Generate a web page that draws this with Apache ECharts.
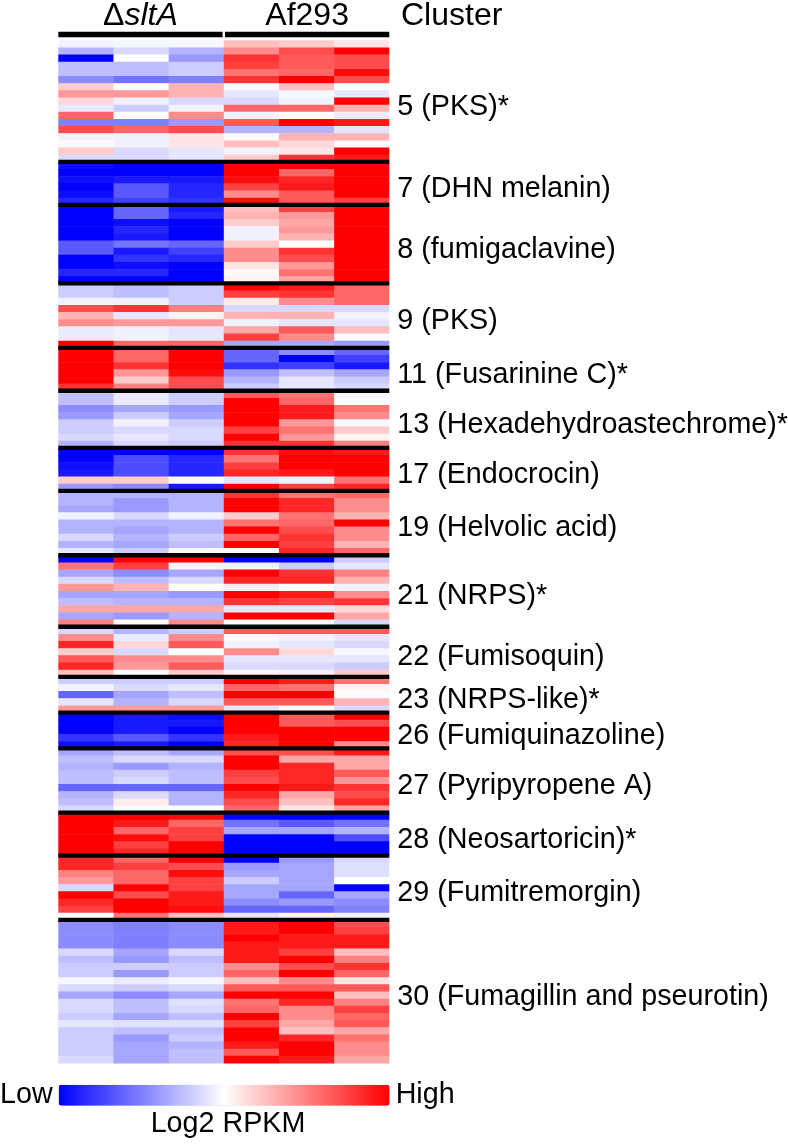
<!DOCTYPE html>
<html><head><meta charset="utf-8">
<script src="https://cdn.jsdelivr.net/npm/echarts@6/dist/echarts.min.js"></script>
<style>html,body{margin:0;padding:0;background:#fff;}#c{width:788px;height:1144px;}</style>
</head><body><div id="c"></div>
<script>
// ---------- DATA ----------
const groups = ['ΔsltA', 'Af293'];          // each group = 3 replicate columns
const clusterLabels = ['5 (PKS)*','7 (DHN melanin)','8 (fumigaclavine)','9 (PKS)','11 (Fusarinine C)*',
  '13 (Hexadehydroastechrome)*','17 (Endocrocin)','19 (Helvolic acid)','21 (NRPS)*','22 (Fumisoquin)',
  '23 (NRPS-like)*','26 (Fumiquinazoline)','27 (Pyripyropene A)','28 (Neosartoricin)*','29 (Fumitremorgin)',
  '30 (Fumagillin and pseurotin)'];
// relative log2 RPKM, -1 = low (blue), +1 = high (red); columns: dS1 dS2 dS3 Af1 Af2 Af3
const c5 = [
 [-0.05,-0.03,-0.03,0.25,0.2,0.1],[-0.3,-0.15,-0.3,0.45,0.7,1],[-1,0,-0.4,0.8,0.65,0.7],
 [-0.25,-0.25,-0.2,0.75,0.65,0.7],[-0.25,-0.25,-0.2,0.55,0.6,0.95],[-0.45,-0.55,-0.5,0.8,1,0.7],
 [0.2,0,0.3,-0.02,0.25,0],[0.4,0.4,0.3,-0.1,-0.03,-0.1],[0.15,-0.05,-0.15,-0.15,-0.05,1],
 [-0.08,-0.2,-0.05,0.6,0.6,0.3],[0.6,0,0.45,-0.05,0,-0.08],[-0.5,-0.5,-0.4,0.65,1,0.9],
 [0.7,0.6,0.7,-0.3,-0.3,-0.1],[-0.05,-0.05,0.1,-0.02,0.3,0.3],[0.02,-0.05,0.1,0.25,0.15,-0.02],
 [0.2,-0.15,-0.1,-0.05,0.1,1],[-0.15,-0.15,-0.1,0.2,0.8,0.9]];
const c7 = [
 [-0.95,-1,-1,1,1,1],[-1,-1,-1,1,0.6,1],[-0.95,-0.9,-0.9,0.95,0.85,1],
 [-1,-0.65,-0.85,0.75,0.9,1],[-0.95,-0.65,-0.85,0.45,0.65,1],[-0.85,-0.75,-0.8,0.95,0.65,0.75]];
const c8 = [
 [-1,-0.6,-0.9,0.25,0.75,1],[-1,-0.6,-0.85,0.3,0.4,1],[-1,-0.95,-1,0.2,0.35,1],
 [-1,-0.85,-1,-0.05,0.4,1],[-1,-0.9,-1,-0.05,0.3,1],[-0.65,-0.55,-0.6,0.2,0,1],
 [-0.65,-0.9,-0.75,0.45,0.8,1],[-1,-0.8,-0.85,0.45,0.7,1],[-1,-0.95,-1,0.1,0.4,1],
 [-0.85,-0.85,-1,0.02,0.55,1],[-1,-1,-1,0.05,0.35,1]];
const c9 = [
 [-0.2,-0.25,-0.2,1,0.9,0.6],[-0.2,-0.25,-0.2,0.75,0.8,0.6],[-0.05,-0.05,-0.2,0.08,0.45,0.6],
 [0.7,0.8,0.5,-0.15,-0.15,-0.15],[0.3,-0.1,0.05,0.3,0.3,-0.05],[0.45,0.4,0.4,-0.05,-0.1,-0.1],
 [-0.08,-0.05,-0.1,0.35,0.65,0.25],[-0.08,-0.05,-0.1,0.75,0.45,-0.02],[1,0.6,0.6,-0.35,-0.35,-0.4]];
const c11 = [
 [1,0.6,1,-0.6,-0.45,-0.6],[1,0.6,1,-0.6,-1,-0.75],[1,0.8,1,-0.8,-0.75,-0.9],
 [1,0.4,0.95,-0.4,-0.25,-0.35],[1,0.2,0.7,-0.3,-0.1,-0.2],[0.8,0.5,0.7,-0.2,-0.1,-0.15]];
const c13 = [
 [-0.25,-0.08,-0.2,0.65,0.55,-0.03],[-0.25,-0.08,-0.2,1,0.6,0],[-0.45,-0.35,-0.4,1,0.9,0.55],
 [-0.4,-0.2,-0.35,1,0.9,0.45],[-0.2,-0.05,-0.2,1,0.4,-0.03],[-0.2,-0.15,-0.15,0.75,0.55,0.2],
 [-0.15,-0.1,-0.15,1,0.4,0.05],[-0.3,-0.15,-0.2,0.8,0.8,0.5]];
const c17 = [
 [-1,-1,-1,0.8,0.95,0.9],[-1,-0.7,-0.85,0.55,1,1],[-0.95,-0.7,-0.85,0.75,1,1],
 [-0.9,-0.7,-0.85,0.85,0.9,1],[0.2,0.2,0,-0.1,-0.05,0.55],[-0.4,-0.45,-0.9,1,0.75,0.85]];
const c19 = [
 [-0.3,-0.3,-0.3,0.8,0.55,0.6],[-0.3,-0.4,-0.3,1,0.85,0.45],[-0.35,-0.4,-0.3,1,0.85,0.45],
 [-0.05,-0.15,-0.05,0.2,0.55,0.3],[-0.3,-0.3,-0.3,0.55,0.6,1],[-0.3,-0.35,-0.3,1,0.7,0.45],
 [-0.15,-0.3,-0.2,0.6,0.8,0.45],[-0.3,-0.35,-0.25,1,0.75,0.3],[-0.1,-0.2,-0.02,-0.02,0.85,0.6]];
const c21 = [
 [-1,1,1,-1,-1,-0.2],[0.55,0.75,0.05,-0.05,-0.2,-0.1],[-0.35,-0.45,-0.35,1,0.8,0.5],
 [-0.15,-0.25,-0.15,0.85,0.85,0.3],[0.4,0.3,0,-0.05,0,-0.05],[-0.35,-0.35,-0.4,1,0.9,0.45],
 [-0.25,-0.3,-0.3,0.8,0.75,0.8],[0.35,0.35,0.35,-0.1,-0.1,0.15],[-0.35,-0.4,-0.3,1,1,0.35],
 [0.5,0.02,0.45,-0.02,-0.02,-0.15]];
const c22 = [
 [-0.15,-0.3,-0.2,0.65,0.65,0.65],[0.45,-0.08,0.45,-0.02,-0.05,-0.1],[0.85,0.15,0.65,-0.05,-0.1,-0.15],
 [0.2,-0.15,0,0.45,0.15,-0.03],[0.65,0.45,0.45,-0.1,-0.1,-0.1],[0.85,0.4,0.65,-0.15,-0.15,-0.2],
 [0.25,0,0.2,-0.03,-0.05,0.2]];
const c23 = [
 [-0.2,-0.2,-0.2,1,0.9,0.55],[-0.05,-0.15,-0.1,0.6,0.55,0.05],[-0.6,-0.35,-0.25,1,1,-0.02],
 [-0.1,-0.3,-0.15,0.65,0.65,0.3],[0.4,0.4,0.4,-0.1,0.02,-0.15]];
const c26 = [
 [-1,-0.9,-0.95,1,0.65,1],[-1,-0.9,-0.9,1,0.65,0.7],[-1,-0.9,-1,1,1,1],
 [-0.8,-0.65,-0.8,0.9,1,1],[-0.95,-0.9,-1,0.85,1,0.45]];
const c27 = [
 [-0.35,-0.25,-0.35,0.7,0.7,0.9],[-0.25,-0.15,-0.15,1,0.35,0.35],[-0.3,-0.4,-0.3,1,0.85,0.35],
 [-0.25,-0.2,-0.25,0.75,0.85,0.65],[-0.25,-0.15,-0.25,0.7,0.85,0.4],[-0.6,-0.6,-0.6,1,0.9,0.8],
 [-0.3,-0.15,-0.3,0.85,0.35,0.7],[-0.25,0.08,-0.3,0.7,0.25,0.85],[-0.15,-0.02,0,0.6,0.1,0.35]];
const c28 = [
 [1,1,0.95,-1,-1,-1],[1,0.9,0.6,-0.55,-0.65,-0.55],[1,0.6,0.75,-0.35,-0.35,-0.3],
 [1,0.95,0.75,-1,-1,-0.7],[1,0.75,1,-1,-1,-1],[1,0.85,1,-1,-1,-1]];
const c29 = [
 [0.85,0.6,1,-1,-0.4,-0.15],[0.85,0.75,0.7,-0.4,-0.35,-0.12],[0.5,0.6,0.95,-0.35,-0.35,-0.12],
 [0.4,0.6,0.75,-0.2,-0.35,0],[-0.15,1,0.75,-0.35,-0.35,-1],[1,0.7,0.9,-0.35,-0.6,-0.35],
 [0.85,1,0.9,-0.45,-0.4,-0.45],[0.75,1,0.95,-0.6,-0.6,-0.5],[0,0.55,0.25,-0.1,0.05,-0.05]];
const c30 = [
 [-0.45,-0.5,-0.45,0.9,1,0.7],[-0.45,-0.5,-0.45,0.9,1,0.75],[-0.45,-0.5,-0.45,1,0.9,0.9],
 [-0.45,-0.5,-0.45,0.9,0.9,0.9],[-0.15,-0.35,-0.15,0.9,0.75,0.25],[-0.25,-0.4,-0.25,0.9,1,0.5],
 [-0.2,-0.2,-0.2,0.45,0.7,0.8],[-0.2,-0.4,-0.2,0.6,1,0.6],[-0.03,-0.08,-0.03,0.25,0.45,0.1],
 [-0.15,-0.2,-0.15,0.65,0.65,0.65],[-0.35,-0.45,-0.35,1,1,0.25],[-0.15,-0.25,-0.12,0.55,0.85,0.5],
 [-0.15,-0.25,-0.15,0.6,0.45,0.75],[-0.2,-0.35,-0.25,1,0.45,0.6],[-0.1,-0.12,-0.12,0.75,0.35,0.65],
 [-0.2,-0.25,-0.25,1,0.25,0.35],[-0.2,-0.4,-0.2,1,0.85,0.55],[-0.2,-0.35,-0.3,0.9,1,0.45],
 [-0.2,-0.35,-0.25,0.65,1,0.45],[-0.15,-0.35,-0.25,1,0.9,0.35]];
const clusterValues = [c5,c7,c8,c9,c11,c13,c17,c19,c21,c22,c23,c26,c27,c28,c29,c30];
const scaleLabels = ['High','Low'];
const scaleTitle = 'Log2 RPKM';
const columnHeader = 'Cluster';

// ---------- BUILD ----------
const FONT = '"Liberation Sans", Arial, Helvetica, sans-serif';
const LABEL_SIZE = 28.7, HEAD_SIZE = 32;
const cells = [], boundaries = [], labelData = [];
let row = 0;
clusterValues.forEach((rows, ci) => {
  const start = row;
  rows.forEach(vals => { vals.forEach((v, col) => cells.push([col, row, v])); row++; });
  labelData.push([6, (start + row) / 2, ci]);
  if (ci < clusterValues.length - 1) boundaries.push([0, row]);
});
const totalRows = row;
const nCols = 6;

const chart = echarts.init(document.getElementById('c'), null, {renderer: 'canvas'});
chart.setOption({
  animation: false,
  backgroundColor: '#ffffff',
  textStyle: {fontFamily: FONT},
  grid: {left: 58.3, top: 40.3, width: 331, height: 1022.7, containLabel: false},
  xAxis: {type: 'value', min: 0, max: nCols, show: false},
  yAxis: {type: 'value', min: 0, max: totalRows, inverse: true, show: false},
  visualMap: {
    type: 'continuous', seriesIndex: 0, dimension: 2, min: -1, max: 1,
    orient: 'horizontal', left: 0, top: 1080.7, padding: 0,
    itemWidth: 21, itemHeight: 331, text: scaleLabels, textGap: 6,
    calculable: false, hoverLink: false,
    textStyle: {fontSize: LABEL_SIZE, color: '#000', fontFamily: FONT},
    inRange: {color: ['#0000ff', '#ffffff', '#ff0000']}
  },
  graphic: [
    {type: 'text', x: 401, y: 16, style: {text: columnHeader, fontSize: HEAD_SIZE, fontFamily: FONT, fill: '#000', align: 'left', verticalAlign: 'middle'}},
    {type: 'text', x: 228, y: 1124, style: {text: scaleTitle, fontSize: LABEL_SIZE, fontFamily: FONT, fill: '#000', align: 'center', verticalAlign: 'middle'}}
  ],
  series: [
    {
      type: 'custom', data: cells, encode: {x: 0, y: 1},
      renderItem: function (params, api) {
        const c = api.value(0), r = api.value(1);
        const p0 = api.coord([c, r]), p1 = api.coord([c + 1, r + 1]);
        return {type: 'rect', shape: {x: p0[0], y: p0[1], width: p1[0] - p0[0] + (c < nCols - 1 ? 0.6 : 0), height: p1[1] - p0[1] + 0.6},
          style: {fill: api.visual('color')}};
      }
    },
    {
      type: 'custom', data: boundaries, encode: {x: 0, y: 1}, z: 5, silent: true,
      renderItem: function (params, api) {
        const a = api.coord([0, api.value(1)]), b = api.coord([nCols, api.value(1)]);
        return {type: 'rect', shape: {x: a[0], y: a[1] - 2.15, width: b[0] - a[0], height: 4.3}, style: {fill: '#000'}};
      }
    },
    {
      type: 'custom', data: [[0, 3, 0], [3, 6, 1]], encode: {x: 0}, clip: false, z: 5, silent: true,
      renderItem: function (params, api) {
        const x0 = api.value(0), x1 = api.value(1), gi = api.value(2);
        const a = api.coord([x0, 0]), b = api.coord([x1, 0]);
        const left = a[0] + (x0 > 0 ? 1.2 : 0), right = b[0] - (x1 < nCols ? 1.2 : 0);
        const name = groups[gi];
        const txt = name.charAt(0) === 'Δ' ? '{n|Δ}{i|' + name.slice(1) + '}' : '{n|' + name + '}';
        return {type: 'group', children: [
          {type: 'rect', shape: {x: left, y: a[1] - 8.6, width: right - left, height: 5.6}, style: {fill: '#000'}},
          {type: 'text', style: {text: txt, x: (left + right) / 2, y: a[1] - 24.3, align: 'center', verticalAlign: 'middle', fill: '#000',
            rich: {n: {fontSize: HEAD_SIZE, fontFamily: FONT, fill: '#000'}, i: {fontSize: HEAD_SIZE, fontFamily: FONT, fontStyle: 'italic', fill: '#000'}}}}
        ]};
      }
    },
    {
      type: 'custom', data: labelData, encode: {x: 0, y: 1}, clip: false, z: 5, silent: true,
      renderItem: function (params, api) {
        const p = api.coord([api.value(0), api.value(1)]);
        return {type: 'text', style: {text: clusterLabels[api.value(2)], x: p[0] + 8, y: p[1] + 5.5,
          align: 'left', verticalAlign: 'middle', fontSize: LABEL_SIZE, fontFamily: FONT, fill: '#000'}};
      }
    }
  ]
});
</script></body></html>
